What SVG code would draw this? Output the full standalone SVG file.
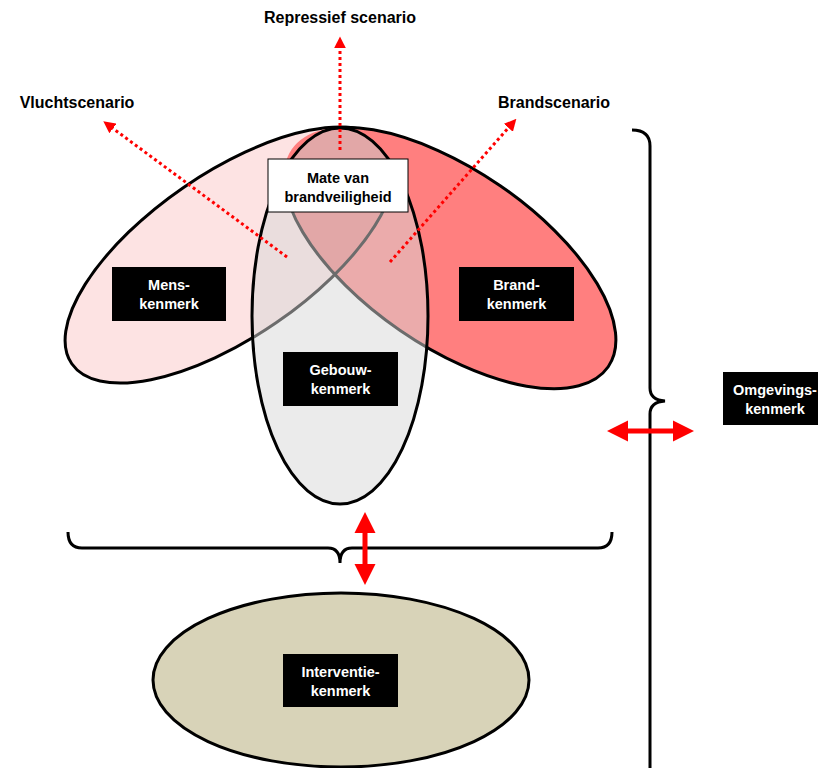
<svg xmlns="http://www.w3.org/2000/svg" width="818" height="768" viewBox="0 0 818 768">
<style>
.ol{stroke:#000;stroke-width:3}
.lbl{font-family:"Liberation Sans",Arial,sans-serif;font-weight:bold;font-size:14.5px;text-anchor:middle}
.wt{fill:#fff}
.top{font-family:"Liberation Sans",Arial,sans-serif;font-weight:bold;font-size:16px;fill:#000}
.dot{stroke:#f00;stroke-width:3;stroke-dasharray:3 3;fill:none}
.brace{fill:none;stroke:#000;stroke-width:3}
.dbl{fill:#f00}
.box{fill:#000}
</style>
<defs>
<marker id="ah" viewBox="0 0 10 10" markerWidth="12" markerHeight="12" refX="2" refY="5" orient="auto" markerUnits="userSpaceOnUse">
<path d="M0,0 L10,5 L0,10 z" fill="#f00"/>
</marker>
<clipPath id="gebClip"><ellipse cx="340" cy="316" rx="88" ry="188"/></clipPath>
<clipPath id="rpClip"><ellipse cx="340" cy="316" rx="88" ry="188"/><rect x="332" y="0" width="486" height="768"/></clipPath>
<clipPath id="rpStrokeClip"><rect x="336" y="0" width="482" height="768"/><rect x="0" y="205" width="818" height="563"/></clipPath>
<clipPath id="lowClip"><rect x="0" y="205" width="818" height="563"/></clipPath>
<clipPath id="rpShape"><ellipse cx="450" cy="258" rx="192" ry="88" transform="rotate(34.5 450 258)"/></clipPath>
</defs>

<g id="mens">
<ellipse class="ol" cx="230" cy="255" rx="192" ry="82" transform="rotate(-34.5 230 255)" fill="#FDE3E3"/>
</g>
<g id="brand">
<ellipse cx="450" cy="258" rx="192" ry="88" transform="rotate(34.5 450 258)" fill="#FF7F7F" clip-path="url(#rpClip)"/>
<g clip-path="url(#rpStrokeClip)">
<ellipse class="ol" cx="450" cy="258" rx="192" ry="88" transform="rotate(34.5 450 258)" fill="none"/>
</g>
</g>
<g id="overlap" clip-path="url(#gebClip)">
<g clip-path="url(#rpShape)">
<ellipse cx="230" cy="255" rx="192" ry="82" transform="rotate(-34.5 230 255)" fill="#000" fill-opacity="0.07"/>
<g clip-path="url(#lowClip)">
<ellipse class="ol" cx="230" cy="255" rx="192" ry="82" transform="rotate(-34.5 230 255)" fill="none"/>
</g>
</g>
</g>
<g id="gebouw">
<ellipse class="ol" cx="340" cy="316" rx="88" ry="188" fill="#D8D8D8" fill-opacity="0.5"/>
</g>

<g id="connectors">
<line class="dot" x1="340" y1="150" x2="340" y2="46" marker-end="url(#ah)"/>
<line class="dot" x1="287" y1="257" x2="111" y2="127" marker-end="url(#ah)"/>
<line class="dot" x1="390" y1="262" x2="510" y2="126" marker-end="url(#ah)"/>
<path class="brace" d="M68,532 Q68,548 82,548 L328,548 Q340,548 340,563 Q340,548 352,548 L598,548 Q612,548 612,532"/>
<path class="brace" d="M632,130 Q650,130 650,146 L650,388 Q650,400 665,401 Q650,402 650,414 L650,768"/>
<polygon class="dbl" points="365,512 375.5,533 367.5,533 367.5,564 375.5,564 365,585 354.5,564 362.5,564 362.5,533 354.5,533"/>
<polygon class="dbl" points="607,431 628,420.5 628,428.5 673,428.5 673,420.5 694,431 673,441.5 673,433.5 628,433.5 628,441.5"/>
</g>

<g id="mate">
<rect x="268" y="159" width="140" height="53" fill="#fff" stroke="#000" stroke-width="1"/>
<text class="lbl" x="338" y="183">Mate van</text>
<text class="lbl" x="338" y="202">brandveiligheid</text>
</g>
<g id="menslabel">
<rect class="box" x="112" y="267" width="114" height="54"/>
<text class="lbl wt" x="169" y="290">Mens-</text>
<text class="lbl wt" x="169" y="309">kenmerk</text>
</g>
<g id="brandlabel">
<rect class="box" x="459" y="267" width="115" height="54"/>
<text class="lbl wt" x="516.5" y="290">Brand-</text>
<text class="lbl wt" x="516.5" y="309">kenmerk</text>
</g>
<g id="gebouwlabel">
<rect class="box" x="283" y="352" width="115" height="54"/>
<text class="lbl wt" x="340.5" y="375">Gebouw-</text>
<text class="lbl wt" x="340.5" y="394">kenmerk</text>
</g>
<g id="interventie">
<ellipse class="ol" cx="341" cy="680" rx="188" ry="87" fill="#D8D3B8"/>
<rect class="box" x="283" y="654" width="115" height="53"/>
<text class="lbl wt" x="340.5" y="677">Interventie-</text>
<text class="lbl wt" x="340.5" y="696">kenmerk</text>
</g>
<g id="omgeving">
<rect class="box" x="723" y="372" width="115" height="53"/>
<text class="lbl wt" x="775" y="395">Omgevings-</text>
<text class="lbl wt" x="775" y="414">kenmerk</text>
</g>
<g id="scenarios">
<text class="top" x="340" y="23" text-anchor="middle">Repressief scenario</text>
<text class="top" x="77" y="108" text-anchor="middle">Vluchtscenario</text>
<text class="top" x="554" y="108" text-anchor="middle">Brandscenario</text>
</g>
</svg>
